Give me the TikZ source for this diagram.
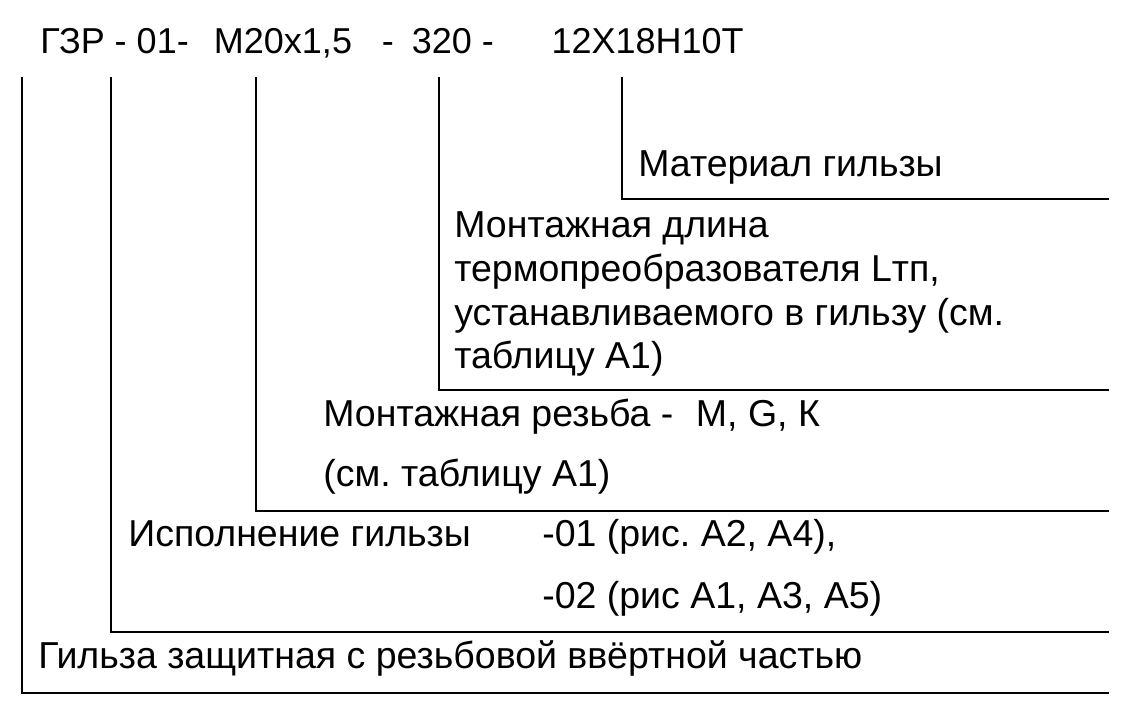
\documentclass[tikz,border=0pt]{standalone}
\usepackage{fontspec}
\setmainfont{Liberation Sans}
\frenchspacing
\begin{document}
\begin{tikzpicture}[
            x=1pt, y=-1pt,
            every node/.style={anchor=base west, inner sep=0pt, font=\fontsize{37.5}{40}\selectfont},
            every path/.style={line width=2.6pt}
            ]
            \useasboundingbox (0,0) rectangle (1136,705);
            \node[font=\fontsize{36}{40}\selectfont] (code) at (39,53) {ГЗР - 01-\hspace{0.7em}М20х1,5\hspace{0.83em}-\hspace{0.5em}320 -\hspace{1.6em}12Х18Н10Т};
            \coordinate (t1) at (22,77);
            \coordinate (t2) at (111,77);
            \coordinate (t3) at (256,77);
            \coordinate (t4) at (439,77);
            \coordinate (t5) at (622,77);
            \coordinate (e1) at (1109,693);
            \coordinate (e2) at (1109,632);
            \coordinate (e3) at (1109,511);
            \coordinate (e4) at (1109,390);
            \coordinate (e5) at (1109,199);
            \draw[line width=2pt] (t1) |- (e1);
            \draw (t2) |- (e2);
            \draw (t3) |- (e3);
            \draw (t4) |- (e4);
            \draw (t5) |- (e5);
            \node (mat) at (637,176) {Материал гильзы};
            \node (len1) at (453,237) {Монтажная длина};
            \node (len2) at (453,281) {термопреобразователя Lтп,};
            \node (len3) at (453,325) {устанавливаемого в гильзу (см.};
            \node (len4) at (453,368) {таблицу А1)};
            \node (thr1) at (322,426) {Монтажная резьба -\hspace{0.6em}М, G, К};
            \node (thr2) at (322,486) {(см. таблицу А1)};
            \node (ver) at (127,546) {Исполнение гильзы};
            \node (opt1) at (541,546) {-01 (рис. А2, А4),};
            \node (opt2) at (541,608) {-02 (рис А1, А3, А5)};
            \node (name) at (37,668) {Гильза защитная с резьбовой ввёртной частью};
        \end{tikzpicture}
\end{document}
